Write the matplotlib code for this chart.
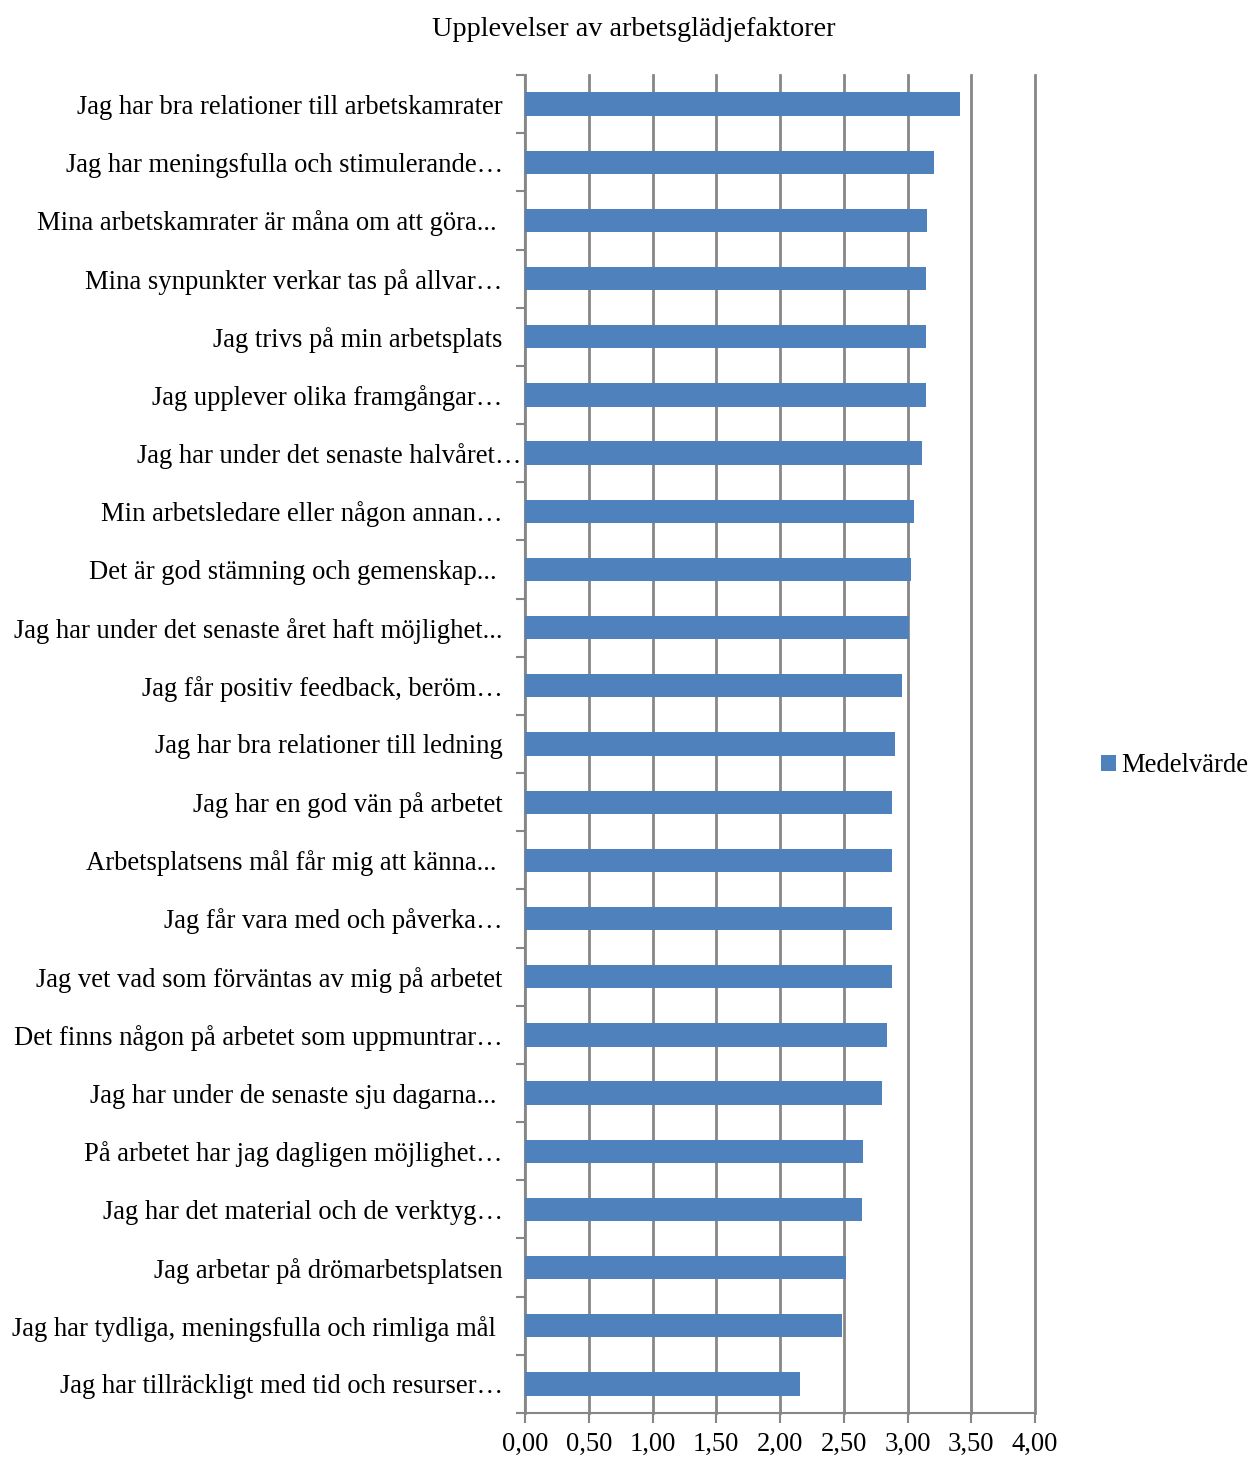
import matplotlib
matplotlib.use("Agg")
import matplotlib.pyplot as plt
from matplotlib.patches import Patch
from matplotlib.ticker import FixedLocator, FuncFormatter
import matplotlib.transforms as mtransforms
import numpy as np

plt.rcParams['font.family'] = ['Liberation Serif', 'DejaVu Serif']

title = "Upplevelser av arbetsglädjefaktorer"
series_name = "Medelvärde"
categories = [
    "Jag har bra relationer till arbetskamrater",
    "Jag har meningsfulla och stimulerande…",
    "Mina arbetskamrater är måna om att göra... ",
    "Mina synpunkter verkar tas på allvar…",
    "Jag trivs på min arbetsplats",
    "Jag upplever olika framgångar…",
    "Jag har under det senaste halvåret…",
    "Min arbetsledare eller någon annan…",
    "Det är god stämning och gemenskap... ",
    "Jag har under det senaste året haft möjlighet...",
    "Jag får positiv feedback, beröm…",
    "Jag har bra relationer till ledning",
    "Jag har en god vän på arbetet",
    "Arbetsplatsens mål får mig att känna... ",
    "Jag får vara med och påverka…",
    "Jag vet vad som förväntas av mig på arbetet",
    "Det finns någon på arbetet som uppmuntrar…",
    "Jag har under de senaste sju dagarna... ",
    "På arbetet har jag dagligen möjlighet…",
    "Jag har det material och de verktyg…",
    "Jag arbetar på drömarbetsplatsen",
    "Jag har tydliga, meningsfulla och rimliga mål ",
    "Jag har tillräckligt med tid och resurser…",
]
values = [3.41, 3.21, 3.15, 3.145, 3.145, 3.145, 3.11, 3.05, 3.03, 3.01,
          2.96, 2.90, 2.88, 2.88, 2.88, 2.875, 2.84, 2.80, 2.65, 2.64,
          2.52, 2.49, 2.16]
xticks = [0.0, 0.5, 1.0, 1.5, 2.0, 2.5, 3.0, 3.5, 4.0]

W, H = 1250, 1458
fig = plt.figure(figsize=(W / 100, H / 100), dpi=100)
ax = fig.add_axes([525 / W, 1 - 1413 / H, (1035 - 525) / W, (1413 - 75) / H])

n = len(categories)
y = np.arange(n)
bar_color = '#4F81BD'
grid_color = '#868686'

ax.barh(y, values, height=0.4, color=bar_color, zorder=3)
ax.set_ylim(n - 0.5, -0.5)
ax.set_xlim(0, 4)

ax.xaxis.set_major_locator(FixedLocator(xticks))
ax.xaxis.set_major_formatter(FuncFormatter(lambda v, p: f"{v:.2f}".replace('.', ',')))
ax.grid(axis='x', color=grid_color, linewidth=2, zorder=1)
for gl in ax.get_xgridlines():
    gl.set_clip_on(False)

ax.set_yticks(y)
ax.set_yticklabels(categories)
ax.yaxis.set_minor_locator(FixedLocator(np.arange(-0.5, n, 1.0)))
ax.tick_params(axis='y', which='major', length=0, pad=16, labelsize=19.2)
ax.tick_params(axis='y', which='minor', length=6.5, width=1.5, color=grid_color)
ax.tick_params(axis='x', which='major', length=7, width=1.5, color=grid_color,
               pad=6.5, labelsize=19.2)

# the long label of row 7 runs up to the axis in the original
lab = ax.get_yticklabels()[6]
lab.set_transform(lab.get_transform() + mtransforms.ScaledTranslation(0.19, 0, fig.dpi_scale_trans))

for side in ['top', 'right']:
    ax.spines[side].set_visible(False)
for side in ['left', 'bottom']:
    ax.spines[side].set_color(grid_color)
    ax.spines[side].set_linewidth(1.5)

fig.text(634 / W, 1 - 29 / H, title, ha='center', va='center', fontsize=20.3)

fig.legend(handles=[Patch(facecolor=bar_color, label=series_name)],
           loc='center left', bbox_to_anchor=(1101 / W, 1 - 766 / H),
           frameon=False, fontsize=19.2, handlelength=0.55, handleheight=0.55,
           handletextpad=0.2, borderpad=0, borderaxespad=0)

fig.savefig('out.png', dpi=100)
